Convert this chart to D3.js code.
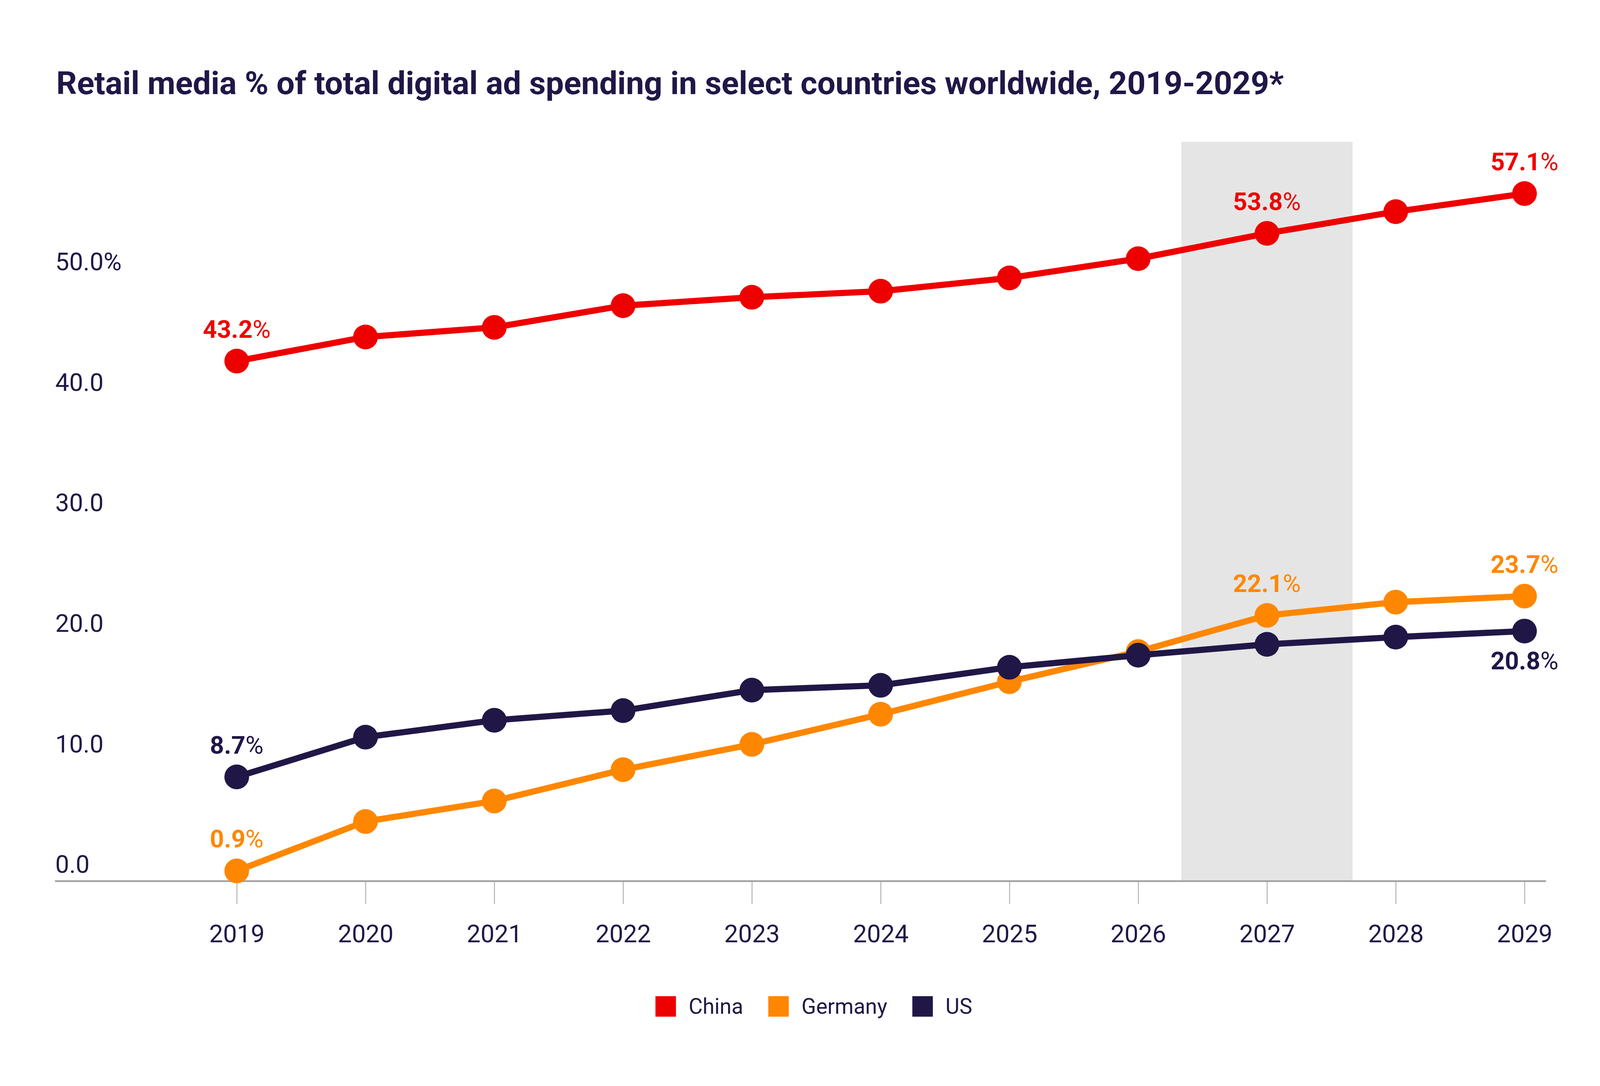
<!DOCTYPE html>
<html>
<head>
<meta charset="UTF-8">
<script src="https://cdn.jsdelivr.net/npm/d3@7"></script>
<style>
  html, body { margin: 0; padding: 0; background: #fff; overflow: hidden; }
  #chart svg { display: block; }
  text { font-family: Roboto, "Noto Sans", sans-serif; }
  .axis text { fill: #211747; }
</style>
</head>
<body>
<div id="chart"></div>
<script>
// data
const years = [2019, 2020, 2021, 2022, 2023, 2024, 2025, 2026, 2027, 2028, 2029];
const china = [43.2, 45.2, 46.0, 47.8, 48.5, 49.0, 50.1, 51.7, 53.8, 55.6, 57.1];
const germany = [0.9, 5.0, 6.7, 9.3, 11.4, 13.9, 16.6, 19.1, 22.1, 23.2, 23.7];
const us = [8.7, 12.0, 13.4, 14.2, 15.9, 16.3, 17.8, 18.8, 19.7, 20.3, 20.8];
const seriesNames = ["China", "Germany", "US"];
const yTicks = [0, 10, 20, 30, 40, 50];
const yTickLabels = ["0.0", "10.0", "20.0", "30.0", "40.0", "50.0%"];
const labelYears = { China: [2019, 2027, 2029], Germany: [2019, 2027, 2029], US: [2019, 2029] };
const highlightYear = 2027;

const title = "Retail media % of total digital ad spending in select countries worldwide, 2019-2029*";
const colors = { China: "#ee0000", Germany: "#ff8700", US: "#211747" };

// layout is designed on a 4917 x 2781 sheet, then fitted to the window:
// positions follow the window, glyphs and marks keep their proportions
const baseW = 4917, baseH = 2781;
const width = window.innerWidth || baseW;
const height = window.innerHeight || baseH;
const kx = width / baseW, ky = height / baseH;
const k = kx; // size factor for fonts, strokes, markers

const series = [
  { name: "China", values: china },
  { name: "Germany", values: germany },
  { name: "US", values: us }
];

// scales
const x = d3.scaleLinear().domain([2019, 2029]).range([727.5 * kx, 4685 * kx]);
const y = d3.scaleLinear().domain([0, 61.4]).range([2258 * ky, 363 * ky]);

const svg = d3.select("#chart").append("svg")
  .attr("width", width)
  .attr("height", height);

svg.append("rect").attr("width", width).attr("height", height).attr("fill", "#fff");

// title
svg.append("text")
  .attr("x", 173 * kx)
  .attr("y", 241 * ky)
  .attr("fill", "#211747")
  .attr("font-size", 99 * k)
  .attr("font-weight", 700)
  .text(title);

// forecast band behind everything
svg.append("rect")
  .attr("x", x(highlightYear - 0.665))
  .attr("width", x(highlightYear + 0.665) - x(highlightYear - 0.665))
  .attr("y", y.range()[1])
  .attr("height", y(0) - y.range()[1])
  .attr("fill", "#e5e5e5");

// y axis: labels only, sitting just above their values
const yAxis = svg.append("g")
  .attr("class", "axis y")
  .call(d3.axisLeft(y).tickValues(yTicks).tickSize(0).tickFormat((d, i) => yTickLabels[i]));
yAxis.select(".domain").remove();
yAxis.selectAll("text")
  .attr("x", 170 * kx)
  .attr("dy", -28 * k)
  .attr("text-anchor", "start")
  .attr("font-size", 76 * k);

// x axis
const xAxis = svg.append("g")
  .attr("class", "axis x")
  .attr("transform", "translate(0," + y(0) + ")")
  .call(d3.axisBottom(x).tickValues(years).tickFormat(d3.format("d")).tickSize(57 * ky));
xAxis.select(".domain").remove();
xAxis.selectAll("line").attr("stroke", "#a6a6a6").attr("stroke-width", 2.5 * k);
xAxis.selectAll("text")
  .attr("y", (2413 - 2258) * ky)
  .attr("dy", 0)
  .attr("font-size", 76 * k);

svg.append("line")
  .attr("x1", 169 * kx).attr("x2", 4751 * kx)
  .attr("y1", y(0) - 2 * k).attr("y2", y(0) - 2 * k)
  .attr("stroke", "#9e9e9e")
  .attr("stroke-width", 5 * k);

// lines + markers
const line = d3.line()
  .x((d, i) => x(years[i]))
  .y(d => y(d));

series.forEach(s => {
  const g = svg.append("g").attr("class", "series");
  g.append("path")
    .attr("d", line(s.values))
    .attr("fill", "none")
    .attr("stroke", colors[s.name])
    .attr("stroke-width", 19 * k)
    .attr("stroke-linejoin", "round");
  g.selectAll("circle")
    .data(s.values)
    .join("circle")
    .attr("cx", (d, i) => x(years[i]))
    .attr("cy", d => y(d))
    .attr("r", 38 * k)
    .attr("fill", colors[s.name]);
});

// value labels
series.forEach(s => {
  labelYears[s.name].forEach(yr => {
    const v = s.values[years.indexOf(yr)];
    const below = s.name === "US" && yr === 2029;
    const t = svg.append("text")
      .attr("x", x(yr))
      .attr("y", below ? y(v) + 118 * k : y(v) - 72 * k)
      .attr("text-anchor", "middle")
      .attr("font-size", 76 * k)
      .attr("fill", colors[s.name]);
    t.append("tspan").attr("font-weight", 700).text(v.toFixed(1));
    t.append("tspan").attr("font-weight", 400).text("%");
  });
});

// legend
const legend = svg.append("g").attr("class", "legend");
let lx = 0;
seriesNames.forEach(name => {
  const item = legend.append("g").attr("transform", "translate(" + lx + ",0)");
  item.append("rect")
    .attr("x", 0).attr("y", 0)
    .attr("width", 63 * k).attr("height", 63 * k)
    .attr("fill", colors[name]);
  const txt = item.append("text")
    .attr("x", 102 * k)
    .attr("y", 54 * k)
    .attr("font-size", 66 * k)
    .attr("fill", "#211747")
    .text(name);
  lx += 102 * k + txt.node().getComputedTextLength() + 77 * k;
});
const legendWidth = lx - 77 * k;
legend.attr("transform", "translate(" + (2501 * kx - legendWidth / 2) + "," + (2551 * ky) + ")");
</script>
</body>
</html>
